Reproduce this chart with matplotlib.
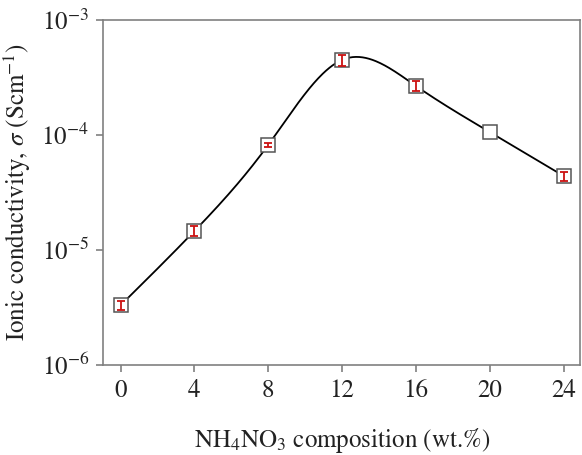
import numpy as np
import matplotlib
matplotlib.use("Agg")
import matplotlib.pyplot as plt
from matplotlib.ticker import LogLocator, NullLocator, FixedLocator

plt.rcParams['font.family'] = ['STIXGeneral', 'Liberation Serif', 'DejaVu Serif']
plt.rcParams['mathtext.fontset'] = 'stix'

composition = [0, 4, 8, 12, 16, 20, 24]
conductivity = [3.3e-6, 1.46e-5, 8.2e-5, 4.5e-4, 2.67e-4, 1.06e-4, 4.4e-5]
error = [0.3e-6, 0.15e-5, 0.4e-5, 0.5e-4, 0.25e-4, 0.0, 0.4e-5]
x_ticks = [0, 4, 8, 12, 16, 20, 24]


def natural_spline(x, y, xs):
    x = np.asarray(x, float)
    y = np.asarray(y, float)
    n = len(x)
    h = np.diff(x)
    A = np.zeros((n, n))
    b = np.zeros(n)
    A[0, 0] = A[-1, -1] = 1
    for i in range(1, n - 1):
        A[i, i - 1] = h[i - 1]
        A[i, i] = 2 * (h[i - 1] + h[i])
        A[i, i + 1] = h[i]
        b[i] = 6 * ((y[i + 1] - y[i]) / h[i] - (y[i] - y[i - 1]) / h[i - 1])
    M = np.linalg.solve(A, b)
    out = np.empty_like(xs)
    for k, xv in enumerate(xs):
        i = min(max(np.searchsorted(x, xv) - 1, 0), n - 2)
        t1 = x[i + 1] - xv
        t0 = xv - x[i]
        out[k] = (M[i] * t1**3 / (6 * h[i]) + M[i + 1] * t0**3 / (6 * h[i])
                  + (y[i] / h[i] - M[i] * h[i] / 6) * t1
                  + (y[i + 1] / h[i] - M[i + 1] * h[i] / 6) * t0)
    return out


fig = plt.figure(figsize=(5.82, 4.55), dpi=100)
ax = fig.add_axes([0.177, 0.198, 0.82, 0.758])

xs = np.linspace(composition[0], composition[-1], 400)
ys = 10 ** natural_spline(composition, np.log10(conductivity), xs)
ax.plot(xs, ys, color='black', lw=1.3, zorder=2)

ax.plot(composition, conductivity, linestyle='none', marker='s', markersize=9.5,
        markerfacecolor='white', markeredgecolor='#555555', markeredgewidth=1.1, zorder=3)

ex = [c for c, e in zip(composition, error) if e > 0]
ey = [v for v, e in zip(conductivity, error) if e > 0]
ee = [e for e in error if e > 0]
ax.errorbar(ex, ey, yerr=ee, fmt='none', ecolor='#cc1111',
            elinewidth=1.3, capsize=3.0, capthick=1.3, zorder=4)

ax.set_yscale('log')
ax.set_ylim(1e-6, 1e-3)
ax.set_xlim(-0.95, 24.9)
ax.xaxis.set_major_locator(FixedLocator(x_ticks))
ax.yaxis.set_major_locator(LogLocator(base=10, numticks=10))
ax.yaxis.set_minor_locator(NullLocator())

for s in ax.spines.values():
    s.set_color('#808080')
    s.set_linewidth(1.2)
ax.tick_params(axis='both', which='major', colors='#808080', length=5, width=1.2,
               labelsize=18, labelcolor='#222222', pad=5)

ax.set_ylabel(r'Ionic conductivity, $\sigma$ (Scm$^{-1}$)', fontsize=18, color='#222222', labelpad=6)
ax.set_xlabel(r'NH$_4$NO$_3$ composition (wt.%)', fontsize=18, color='#222222', labelpad=17)

fig.savefig('out.png', dpi=100)
